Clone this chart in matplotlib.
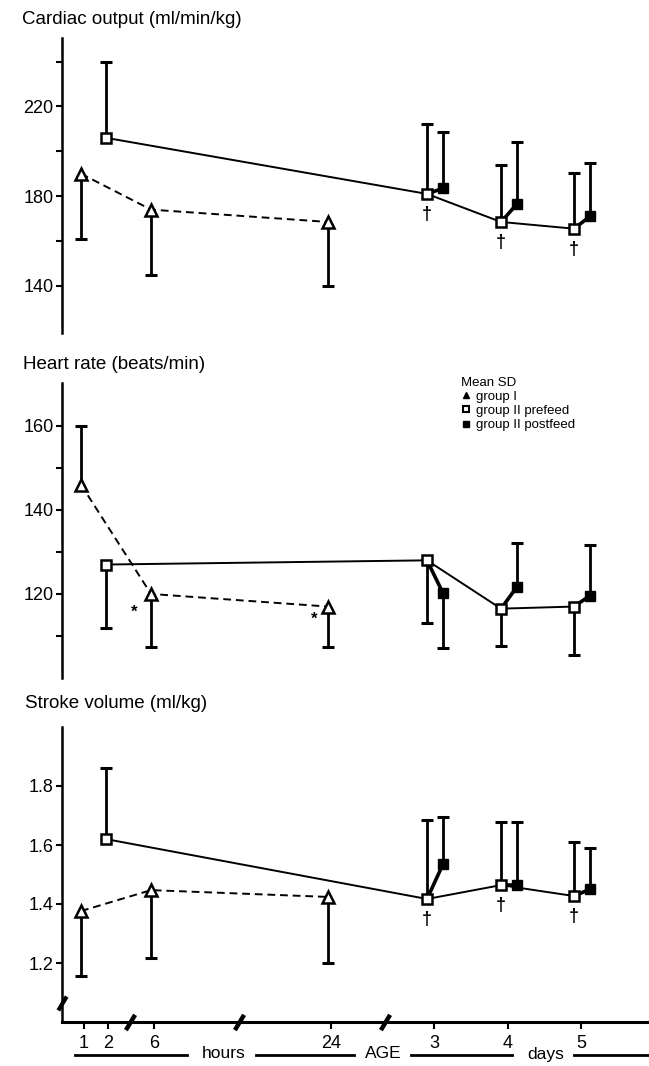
import numpy as np
import matplotlib
matplotlib.use("Agg")
import matplotlib.pyplot as plt
from matplotlib.lines import Line2D

plt.rcParams['font.family'] = ['Liberation Sans', 'DejaVu Sans']

# broken age axis: tick labels and where they sit along the axis
age_labels = ["1", "2", "6", "24", "3", "4", "5"]
age_pos = np.array([22, 46, 92, 269, 372, 446, 519])
break_pos = [68, 177, 323]

# which ages each group was measured at (index into age_pos)
grp1_idx = [0, 2, 3]
pre_idx = [1, 4, 5, 6]
post_idx = [4, 5, 6]

# cardiac output (ml/min/kg)
co_grp1 = [190, 174, 168.5]
co_grp1_sd = [29, 29, 28.5]
co_grp1_dir = [-1, -1, -1]
co_pre = [206, 181, 168.5, 165.5]
co_pre_sd = [34, 31, 25.5, 25]
co_pre_dir = [1, 1, 1, 1]
co_post = [183.5, 176.5, 171]
co_post_sd = [25, 27.5, 24]
co_post_dir = [1, 1, 1]

# heart rate (beats/min)
hr_grp1 = [146, 120, 117]
hr_grp1_sd = [14, 12.6, 9.6]
hr_grp1_dir = [1, -1, -1]
hr_pre = [127, 128, 116.5, 117]
hr_pre_sd = [15, 15, 9, 11.5]
hr_pre_dir = [-1, -1, -1, -1]
hr_post = [120.2, 121.7, 119.6]
hr_post_sd = [13, 10.5, 12]
hr_post_dir = [-1, 1, 1]

# stroke volume (ml/kg)
sv_grp1 = [1.376, 1.447, 1.424]
sv_grp1_sd = [0.22, 0.23, 0.224]
sv_grp1_dir = [-1, -1, -1]
sv_pre = [1.62, 1.417, 1.464, 1.427]
sv_pre_sd = [0.24, 0.268, 0.214, 0.183]
sv_pre_dir = [1, 1, 1, 1]
sv_post = [1.535, 1.464, 1.45]
sv_post_sd = [0.16, 0.214, 0.14]
sv_post_dir = [1, 1, 1]

W, H = 649, 1066
fig = plt.figure(figsize=(W / 100, H / 100), dpi=100)


def fig_box(top_px, bot_px):
    return [62 / W, 1 - bot_px / H, (W - 62) / W, (bot_px - top_px) / H]


def errs(ax, x, y, sd, d):
    y = np.array(y, float)
    ends = y + np.array(sd) * np.array(d)
    ax.vlines(x, y, ends, color='k', lw=2, zorder=2)
    ax.plot(x, ends, ls='none', marker='_', ms=9, mew=2.2, color='k', zorder=2)


def panel(ax, g1, g1sd, g1d, pre, presd, pred, post, postsd, postd):
    x1 = age_pos[grp1_idx] - 3
    xpre = age_pos[pre_idx] - np.array([2, 7, 7, 7])
    xpost = age_pos[post_idx] + 9

    errs(ax, x1, g1, g1sd, g1d)
    errs(ax, xpre, pre, presd, pred)
    errs(ax, xpost, post, postsd, postd)

    ax.plot(x1, g1, color='k', lw=1.4, ls=(0, (4, 2.5)), zorder=3)
    ax.plot(xpre, pre, color='k', lw=1.4, zorder=3)
    for xa, ya, xb, yb in zip(xpre[1:], pre[1:], xpost, post):
        ax.plot([xa, xb], [ya, yb], color='k', lw=2.6, zorder=3)

    ax.plot(x1, g1, ls='none', marker='^', ms=8, mfc='white', mec='k', mew=1.8, zorder=4)
    ax.plot(xpre, pre, ls='none', marker='s', ms=7.5, mfc='white', mec='k', mew=1.8, zorder=4)
    ax.plot(xpost, post, ls='none', marker='s', ms=7.5, mfc='k', mec='k', zorder=4)
    return x1, xpre, xpost


def style(ax, ylim, ticks, labels):
    ax.set_xlim(0, W - 62)
    ax.set_ylim(*ylim)
    for s in ['top', 'right']:
        ax.spines[s].set_visible(False)
    ax.spines['left'].set_linewidth(1.8)
    ax.set_yticks(ticks)
    ax.set_yticklabels(labels)
    ax.tick_params(axis='y', direction='out', length=4, width=1.5, labelsize=13, pad=2)


def daggers(ax, xpre, pre):
    for x, y in zip(xpre[1:], pre[1:]):
        ax.annotate('\u2020', (x, y), xytext=(0, -15), textcoords='offset points',
                    ha='center', va='center', fontsize=13, fontweight='bold')


# --- cardiac output ---
ax1 = fig.add_axes(fig_box(38, 333))
x1, xpre, xpost = panel(ax1, co_grp1, co_grp1_sd, co_grp1_dir, co_pre, co_pre_sd, co_pre_dir,
                        co_post, co_post_sd, co_post_dir)
style(ax1, (119, 250.5), [140, 160, 180, 200, 220, 240], ['140', '', '180', '', '220', ''])
ax1.spines['bottom'].set_visible(False)
ax1.set_xticks([])
daggers(ax1, xpre, co_pre)
fig.text(22 / W, 1 - 20 / H, 'Cardiac output (ml/min/kg)', va='center', fontsize=13.5)

# --- heart rate ---
ax2 = fig.add_axes(fig_box(383, 678))
x1, xpre, xpost = panel(ax2, hr_grp1, hr_grp1_sd, hr_grp1_dir, hr_pre, hr_pre_sd, hr_pre_dir,
                        hr_post, hr_post_sd, hr_post_dir)
style(ax2, (100, 170.2), [110, 120, 130, 140, 150, 160], ['', '120', '', '140', '', '160'])
ax2.spines['bottom'].set_visible(False)
ax2.set_xticks([])
for i, off in [(1, (-12, -13)), (2, (-10, -9))]:
    ax2.annotate('*', (x1[i], hr_grp1[i]), xytext=off, textcoords='offset points',
                 ha='center', va='center', fontsize=12, fontweight='bold')
fig.text(23 / W, 1 - 364 / H, 'Heart rate (beats/min)', va='center', fontsize=13.5)

handles = [
    Line2D([], [], ls='none', marker='^', ms=5, mfc='k', mec='k'),
    Line2D([], [], ls='none', marker='s', ms=5, mfc='white', mec='k', mew=1.5),
    Line2D([], [], ls='none', marker='s', ms=5, mfc='k', mec='k'),
]
leg = fig.legend(handles, ['group I', 'group II prefeed', 'group II postfeed'],
                 title='Mean SD', loc='upper left', bbox_to_anchor=(454 / W, 1 - 370 / H),
                 frameon=False, fontsize=9.5, title_fontsize=9.5, handlelength=0.8,
                 handletextpad=0.4, labelspacing=0.15, borderpad=0, alignment='left')

# --- stroke volume ---
ax3 = fig.add_axes(fig_box(727, 1022))
x1, xpre, xpost = panel(ax3, sv_grp1, sv_grp1_sd, sv_grp1_dir, sv_pre, sv_pre_sd, sv_pre_dir,
                        sv_post, sv_post_sd, sv_post_dir)
style(ax3, (1.0, 2.0), [1.2, 1.4, 1.6, 1.8], ['1.2', '1.4', '1.6', '1.8'])
ax3.spines['bottom'].set_linewidth(2.2)
ax3.set_xticks(age_pos)
ax3.set_xticklabels(age_labels)
ax3.tick_params(axis='x', direction='out', length=5, width=1.5, labelsize=13, pad=4)
daggers(ax3, xpre, sv_pre)
fig.text(25 / W, 1 - 704 / H, 'Stroke volume (ml/kg)', va='center', fontsize=13.5)

# axis break marks
slash = [(-0.6, -1), (0.6, 1)]
ax3.plot(break_pos, [1.0] * len(break_pos), ls='none', marker=slash, ms=11, mew=3.2,
         color='k', clip_on=False, zorder=5)
ax3.plot([0], [1.065], ls='none', marker=slash, ms=10, mew=3, color='k', clip_on=False, zorder=5)

# age caption under the x axis
y_cap = 1 - 1055 / H
for a, b in [(75, 187), (256, 354), (411, 512), (574, 649)]:
    fig.add_artist(Line2D([a / W, b / W], [y_cap, y_cap], color='k', lw=2))
for txt, xc in [('hours', 224), ('AGE', 383), ('days', 546)]:
    fig.text(xc / W, 1 - 1054 / H, txt, ha='center', va='center', fontsize=12.5)

fig.savefig('out.png', dpi=100)
